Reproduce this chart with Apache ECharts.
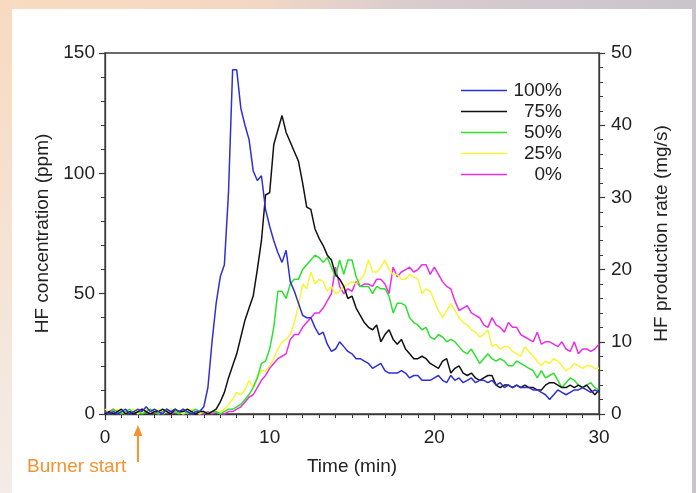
<!DOCTYPE html>
<html><head><meta charset="utf-8">
<script src="https://cdn.jsdelivr.net/npm/echarts@6/dist/echarts.min.js"></script>
<style>html,body{margin:0;padding:0;background:#fff;}#c{width:696px;height:493px;}</style>
</head><body><div id="c"></div>
<script>
// Sampling grid: 0..30 min every 0.25 min (121 samples)
const timeStep = 0.25;
const seriesNames = ['100%', '75%', '50%', '25%', '0%'];
const seriesColors = ['#2f2fd2', '#111111', '#2fe02f', '#f6f53a', '#ea2ee8'];

// HF concentration (ppm), rows = one minute (4 samples each)
const hf100 = [
 1,0,1,0, 1,2,0,1, 2,1,3,1, 2,1,0,2, 1,2,1,2, 1,0,1,1,
 3,11,30,46, 57,62,92,143, 143,127,120,114, 101,97,99,85,
 78,72,67,63, 68,55,51,46, 41,40,40,36, 33,34,29,26,
 27,30,28,26, 25,23,23,22, 21,19,20,21, 18,17,17,17,
 18,17,15,16, 16,14,14,14, 15,16,14,13, 16,14,15,13,
 14,15,13,14, 14,13,14,12, 13,11,12,11, 12,11,11,11,
 10,10,9,8, 6,8,10,9, 8,9,10,10, 11,10,9,10, 9];
const hf75 = [
 0,1,0,1, 2,0,1,0, 1,2,1,0, 1,1,2,1, 0,2,1,1, 2,1,0,1,
 1,0,1,2, 5,9,15,20, 25,32,39,44, 49,60,72,91,
 92,112,118,124, 117,113,109,105, 96,86,85,77, 73,70,66,64,
 58,56,53,48, 49,44,41,38, 36,35,37,30, 33,35,31,29,
 31,27,25,23, 23,24,23,21, 20,19,22,23, 17,19,20,17,
 16,17,15,14, 15,16,16,12, 11,12,12,11, 12,11,12,11,
 11,10,10,12, 13,13,12,11, 11,12,11,12, 11,12,10,8, 10];
const hf50 = [
 1,0,2,1, 0,1,2,0, 1,0,1,2, 1,0,1,2, 1,1,0,2, 0,1,2,1,
 1,0,1,1, 0,1,2,2, 3,4,6,8, 11,15,21,22,
 27,36,51,51, 48,54,56,56, 60,62,64,66, 65,63,65,61,
 57,64,58,64, 64,57,53,53, 53,50,53,52, 52,49,42,46,
 46,45,40,38, 37,35,36,32, 31,33,32,30, 31,30,28,26,
 25,27,24,21, 23,25,23,22, 23,22,20,20, 22,21,20,19,
 18,15,18,15, 16,17,14,11, 13,15,14,12, 11,12,13,11, 10];
const hf25 = [
 2,1,0,2, 1,0,1,2, 0,1,2,1, 1,2,0,1, 2,1,1,0, 1,2,1,0,
 1,0,1,1, 1,2,4,6, 9,8,10,14, 11,15,18,18,
 20,23,27,30, 31,33,38,45, 54,52,59,54, 56,55,51,53,
 50,51,53,54, 55,54,56,58, 64,59,59,61, 64,60,58,58,
 56,56,58,57, 56,50,52,51, 47,43,40,43, 46,43,40,38,
 37,35,34,32, 33,35,28,29, 27,28,28,26, 25,24,28,26,
 24,22,20,22, 21,23,22,20, 18,19,21,20, 19,20,20,19, 19];
const hf0 = [
 0,1,2,0, 1,0,1,1, 0,2,1,0, 1,0,1,2, 0,1,1,0, 1,0,1,0,
 0,1,0,1, 0,0,1,1, 2,3,5,7, 8,11,14,16,
 19,21,23,24, 25,31,33,33, 36,38,40,42, 42,44,47,50,
 61,53,50,52, 51,55,53,54, 54,53,56,56, 54,50,61,57,
 59,60,61,59, 60,62,62,58, 61,58,55,53, 52,47,43,44,
 45,42,41,40, 37,36,40,37, 36,34,38,36, 36,33,32,31,
 30,34,29,30, 30,29,28,30, 27,26,30,25, 27,27,26,27, 29];

const seriesValues = [hf100, hf75, hf50, hf25, hf0];
const times = hf100.map((_, i) => i * timeStep);

const FONT = '"Liberation Sans", Arial, Helvetica, sans-serif';
const TXT = '#222222';
const AX = '#3a3a3a';

const chart = echarts.init(document.getElementById('c'), null, {renderer: 'canvas'});

const axisCommon = {
  axisLine: {show: true, lineStyle: {color: AX, width: 1.3}},
  axisTick: {show: true, inside: false, length: 6, lineStyle: {color: AX, width: 1.2}},
  minorTick: {show: true, splitNumber: 5, length: 4, lineStyle: {color: AX, width: 1}},
  splitLine: {show: false},
  axisLabel: {fontSize: 19, color: TXT, fontFamily: FONT},
  nameTextStyle: {fontSize: 19, color: TXT, fontFamily: FONT}
};

const option = {
  backgroundColor: {
    type: 'linear', x: 0, y: 0, x2: 1, y2: 0,
    colorStops: [
      {offset: 0, color: '#f8dcc0'},
      {offset: 0.35, color: '#f4d8c4'},
      {offset: 0.6, color: '#d8cccf'},
      {offset: 1, color: '#c9c5cb'}
    ]
  },
  animation: false,
  grid: {
    left: 105, right: 97, top: 53, bottom: 79,
    show: true, backgroundColor: '#ffffff', borderColor: AX, borderWidth: 1.3
  },
  legend: {
    data: seriesNames,
    orient: 'vertical',
    left: 456, top: 76,
    itemWidth: 46, itemHeight: 12, itemGap: 2,
    icon: 'path://M0,5.2 L46,5.2 L46,6.8 L0,6.8 Z',
    formatter: '{a|{name}}',
    textStyle: {
      fontFamily: FONT, fontSize: 19, color: TXT,
      rich: {a: {width: 50, align: 'right', fontSize: 19, lineHeight: 21, fontFamily: FONT, color: TXT}}
    }
  },
  xAxis: Object.assign({}, axisCommon, {
    type: 'value', min: 0, max: 30, interval: 10,
    minorTick: {show: true, splitNumber: 10, length: 4, lineStyle: {color: AX, width: 1}},
    axisLabel: Object.assign({}, axisCommon.axisLabel, {margin: 14}),
    name: 'Time (min)', nameLocation: 'middle', nameGap: 43
  }),
  yAxis: [
    Object.assign({}, axisCommon, {
      type: 'value', min: 0, max: 150, interval: 50, position: 'left',
      axisLabel: Object.assign({}, axisCommon.axisLabel, {margin: 10}),
      name: 'HF concentration (ppm)', nameLocation: 'middle', nameGap: 48, nameRotate: 90
    }),
    Object.assign({}, axisCommon, {
      type: 'value', min: 0, max: 50, interval: 10, position: 'right',
      axisLabel: Object.assign({}, axisCommon.axisLabel, {margin: 12}),
      name: 'HF production rate (mg/s)', nameLocation: 'middle', nameGap: 53, nameRotate: 90
    })
  ],
  series: seriesNames.map((name, k) => ({
    name: name,
    type: 'line',
    yAxisIndex: 0,
    symbol: 'none',
    showSymbol: false,
    smooth: false,
    color: seriesColors[k],
    lineStyle: {width: 1.5, color: seriesColors[k]},
    z: 10 - k,
    data: times.map((t, i) => [t, seriesValues[k][i]])
  })).reverse()
};

chart.setOption(option);

// background panel and "Burner start" annotation
const bx = chart.convertToPixel({xAxisIndex: 0}, 2);
const by0 = chart.convertToPixel({yAxisIndex: 0}, 0);
chart.setOption({
  graphic: [
    {type: 'rect', z: -100, silent: true, shape: {x: 0, y: 0, width: 12, height: 493},
     style: {fill: {type: 'linear', x: 0, y: 0, x2: 0, y2: 1,
       colorStops: [{offset: 0, color: '#f7dac0'}, {offset: 1, color: '#f3ece8'}]}}},
    {type: 'rect', z: -99, silent: true, shape: {x: 12, y: 9, width: 680, height: 484},
     style: {fill: '#ffffff'}},
    {type: 'line', silent: true, shape: {x1: bx, y1: by0 + 48, x2: bx, y2: by0 + 20},
     style: {stroke: '#f5922f', lineWidth: 2}},
    {type: 'polygon', silent: true,
     shape: {points: [[bx, by0 + 11], [bx - 4.5, by0 + 22], [bx + 4.5, by0 + 22]]},
     style: {fill: '#f5922f'}},
    {type: 'text', silent: true, left: 27, top: by0 + 43,
     style: {text: 'Burner start', fill: '#f5922f', fontSize: 19, fontFamily: FONT}}
  ]
});
</script>
</body></html>
